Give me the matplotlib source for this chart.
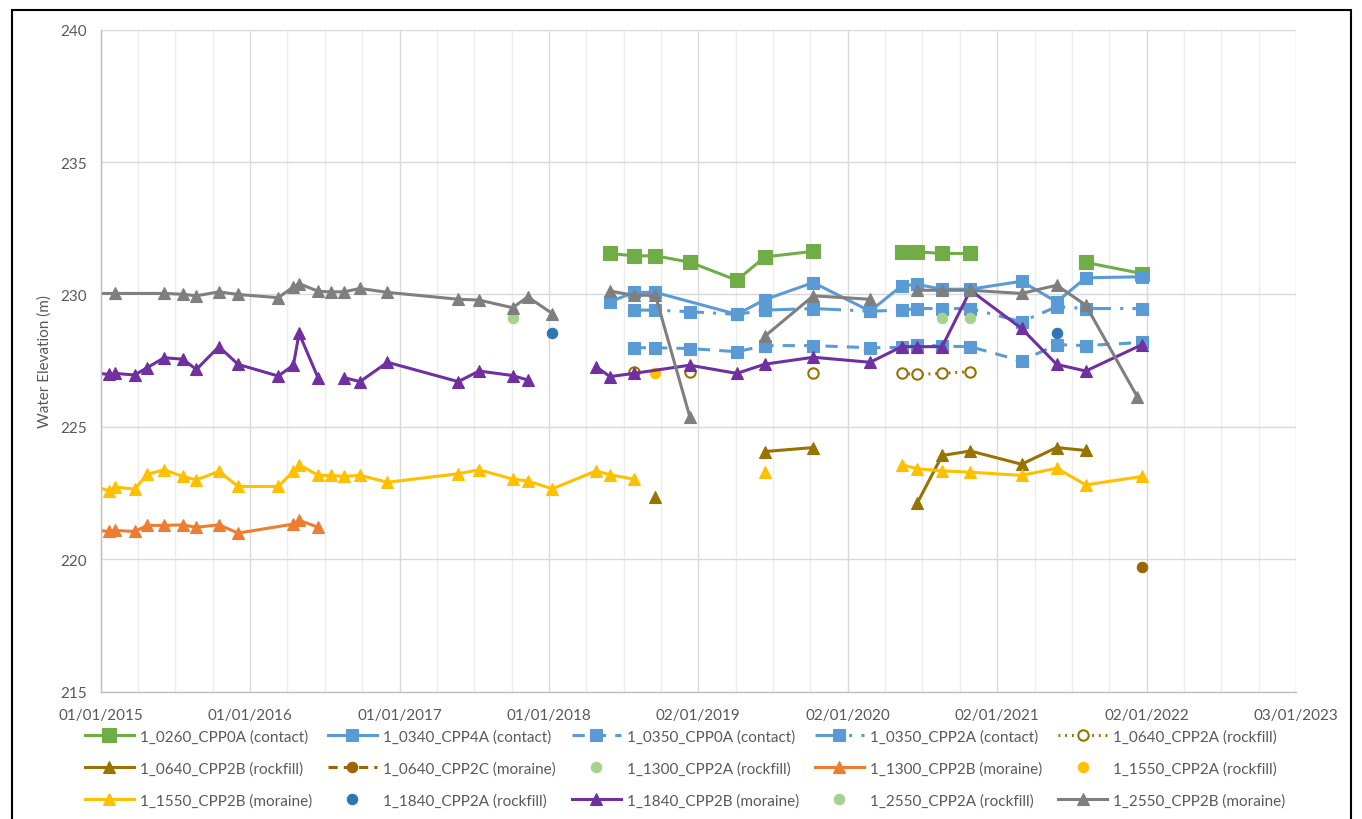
import matplotlib
matplotlib.use("Agg")
import matplotlib.pyplot as plt
import matplotlib.dates as mdates
from matplotlib.lines import Line2D
from matplotlib.patches import Rectangle
import numpy as np

# ---- monitoring data (None = no reading, breaks the line) ----
p0260_cpp0a_dates = ["2018-05-30", "2018-07-27", "2018-09-18", "2018-12-11", "2019-04-05",
                     "2019-06-13", "2019-10-09", "2020-02-25", "2020-05-12", "2020-06-19",
                     "2020-08-19", "2020-10-27", "2021-03-01", "2021-08-05", "2021-12-21"]
p0260_cpp0a_vals = [231.55, 231.46, 231.46, 231.22, 230.54, 231.42, 231.63, None, 231.61, 231.61,
                    231.55, 231.55, None, 231.21, 230.79]

p0340_cpp4a_dates = ["2018-05-30", "2018-07-27", "2018-09-18", "2019-04-05", "2019-06-13",
                     "2019-10-09", "2020-02-25", "2020-05-12", "2020-06-19", "2020-08-19",
                     "2020-10-27", "2021-03-01", "2021-05-26", "2021-08-05", "2021-12-21"]
p0340_cpp4a_vals = [229.72, 230.08, 230.08, 229.25, 229.81, 230.45, 229.37, 230.33, 230.38, 230.20,
                    230.20, 230.50, 229.72, 230.63, 230.67]

p0350_dates = ["2018-07-27", "2018-09-18", "2018-12-11", "2019-04-05", "2019-06-13",
               "2019-10-09", "2020-02-25", "2020-05-12", "2020-06-19", "2020-08-19",
               "2020-10-27", "2021-03-01", "2021-05-26", "2021-08-05", "2021-12-21"]
p0350_cpp0a_vals = [227.99, 227.99, 227.96, 227.84, 228.07, 228.07, 227.99, 228.00, 228.10, 228.05,
                    228.03, 227.49, 228.11, 228.07, 228.19]
p0350_cpp2a_vals = [229.41, 229.41, 229.35, 229.25, 229.41, 229.47, 229.37, 229.41, 229.47, 229.47,
                    229.47, 228.97, 229.54, 229.47, 229.47]

p0640_cpp2a_dates = ["2018-07-27", "2018-09-18", "2018-12-11", "2019-04-05", "2019-10-09",
                     "2020-02-25", "2020-05-12", "2020-06-19", "2020-08-19", "2020-10-27"]
p0640_cpp2a_vals = [227.09, None, 227.06, None, 227.02, None, 227.02, 226.98, 227.02, 227.09]

p0640_cpp2b_dates = ["2018-09-18", "2019-04-05", "2019-06-13", "2019-10-09", "2020-02-25",
                     "2020-06-19", "2020-08-19", "2020-10-27", "2021-03-01", "2021-05-26",
                     "2021-08-05"]
p0640_cpp2b_vals = [222.35, None, 224.07, 224.22, None, 222.12, 223.92, 224.09, 223.59, 224.22,
                    224.11]

p0640_cpp2c_dates = ["2021-12-21"]
p0640_cpp2c_vals = [219.71]

p1300_cpp2a_dates = ["2020-08-19", "2020-10-27"]
p1300_cpp2a_vals = [229.10, 229.10]

p1300_cpp2b_dates = ["2014-12-10", "2015-01-22", "2015-02-06", "2015-03-25", "2015-04-25",
                     "2015-06-05", "2015-07-20", "2015-08-23", "2015-10-17", "2015-12-03",
                     "2016-04-16", "2016-04-30", "2016-06-16"]
p1300_cpp2b_vals = [221.12, 221.05, 221.09, 221.05, 221.28, 221.28, 221.30, 221.21, 221.30, 220.99,
                    221.33, 221.47, 221.21]

p1550_cpp2a_dates = ["2018-09-18"]
p1550_cpp2a_vals = [227.02]

p1550_cpp2b_dates = ["2014-12-10", "2015-01-22", "2015-02-06", "2015-03-25", "2015-04-25",
                     "2015-06-05", "2015-07-20", "2015-08-23", "2015-10-17", "2015-12-03",
                     "2016-03-10", "2016-04-16", "2016-04-30", "2016-06-16", "2016-07-16",
                     "2016-08-18", "2016-09-26", "2016-12-02", "2017-05-24", "2017-07-14",
                     "2017-10-04", "2017-11-10", "2018-01-09", "2018-04-26", "2018-05-30",
                     "2018-07-27", "2018-09-18", "2019-06-13", "2019-10-09", "2020-05-12",
                     "2020-06-19", "2020-08-19", "2020-10-27", "2021-03-01", "2021-05-26",
                     "2021-08-05", "2021-12-21"]
p1550_cpp2b_vals = [222.78, 222.59, 222.73, 222.65, 223.21, 223.38, 223.13, 223.00, 223.32, 222.75,
                    222.75, 223.32, 223.57, 223.17, 223.17, 223.13, 223.17, 222.91, 223.23, 223.38,
                    223.03, 222.96, 222.66, 223.34, 223.19, 223.03, None, 223.29, None, 223.57,
                    223.42, 223.34, 223.29, 223.17, 223.44, 222.81, 223.13]

p1840_cpp2a_dates = ["2018-01-09", "2021-05-26"]
p1840_cpp2a_vals = [228.56, 228.56]

p1840_cpp2b_dates = ["2014-12-10", "2015-01-22", "2015-02-06", "2015-03-25", "2015-04-25",
                     "2015-06-05", "2015-07-20", "2015-08-23", "2015-10-17", "2015-12-03",
                     "2016-03-10", "2016-04-16", "2016-04-30", "2016-06-16", "2016-07-16",
                     "2016-08-18", "2016-09-26", "2016-12-02", "2017-05-24", "2017-07-14",
                     "2017-10-04", "2017-11-10", "2018-01-09", "2018-04-26", "2018-05-30",
                     "2018-07-27", "2018-12-11", "2019-04-05", "2019-06-13", "2019-10-09",
                     "2020-02-25", "2020-05-12", "2020-06-19", "2020-08-19", "2020-10-27",
                     "2021-03-01", "2021-05-26", "2021-08-05", "2021-12-21"]
p1840_cpp2b_vals = [227.05, 226.98, 227.02, 226.96, 227.24, 227.61, 227.56, 227.17, 228.03, 227.36,
                    226.92, 227.33, 228.53, 226.83, None, 226.86, 226.71, 227.44, 226.71, 227.11,
                    226.94, 226.77, None, 227.27, 226.90, 227.02, 227.33, 227.02, 227.37, 227.63,
                    227.44, 228.03, 228.03, 228.03, 230.16, 228.72, 227.36, 227.11, 228.11]

p2550_cpp2a_dates = ["2017-10-04"]
p2550_cpp2a_vals = [229.10]

p2550_cpp2b_dates = ["2014-12-10", "2015-02-06", "2015-06-05", "2015-07-20", "2015-08-23",
                     "2015-10-17", "2015-12-03", "2016-03-10", "2016-04-16", "2016-04-30",
                     "2016-06-16", "2016-07-16", "2016-08-18", "2016-09-26", "2016-12-02",
                     "2017-05-24", "2017-07-14", "2017-10-04", "2017-11-10", "2018-01-09",
                     "2018-04-26", "2018-05-30", "2018-07-27", "2018-09-18", "2018-12-11",
                     "2019-04-05", "2019-06-13", "2019-10-09", "2020-02-25", "2020-05-12",
                     "2020-06-19", "2020-08-19", "2020-10-27", "2021-03-01", "2021-05-26",
                     "2021-08-05", "2021-12-09"]
p2550_cpp2b_vals = [230.04, 230.04, 230.04, 230.01, 229.95, 230.10, 230.00, 229.88, 230.29, 230.41,
                    230.12, 230.10, 230.10, 230.23, 230.08, 229.82, 229.79, 229.50, 229.91, 229.28,
                    None, 230.13, 229.97, 229.97, 225.39, None, 228.43, 229.95, 229.82, None,
                    230.16, 230.16, 230.16, 230.04, 230.35, 229.60, 226.14]

tick_labels = ["01/01/2015", "01/01/2016", "01/01/2017", "01/01/2018", "02/01/2019",
               "02/01/2020", "02/01/2021", "02/01/2022", "03/01/2023"]

GREEN = "#70AD47"
BLUE = "#5B9BD5"
GOLD = "#997300"
BROWN = "#9C6500"
LGREEN = "#A9D18E"
ORANGE = "#ED7D31"
YELLOW = "#FFC000"
DBLUE = "#2E75B6"
PURPLE = "#7030A0"
GREY = "#7F7F7F"
TXT = "#595959"

plt.rcParams["font.family"] = ["Lato", "DejaVu Sans"]

# label, dates, values, colour, marker, marker size, line style, open marker
series = [
    ("1_0260_CPP0A (contact)", p0260_cpp0a_dates, p0260_cpp0a_vals, GREEN, "s", 9.5, "-", False),
    ("1_0340_CPP4A (contact)", p0340_cpp4a_dates, p0340_cpp4a_vals, BLUE, "s", 9.0, "-", False),
    ("1_0350_CPP0A (contact)", p0350_dates, p0350_cpp0a_vals, BLUE, "s", 9.0, (0, (4, 3)), False),
    ("1_0350_CPP2A (contact)", p0350_dates, p0350_cpp2a_vals, BLUE, "s", 9.0, (0, (8, 3, 1, 3)), False),
    ("1_0640_CPP2A (rockfill)", p0640_cpp2a_dates, p0640_cpp2a_vals, GOLD, "o", 7.5, (0, (0.6, 1.6)), True),
    ("1_0640_CPP2B (rockfill)", p0640_cpp2b_dates, p0640_cpp2b_vals, GOLD, "^", 9.0, "-", False),
    ("1_0640_CPP2C (moraine)", p0640_cpp2c_dates, p0640_cpp2c_vals, BROWN, "o", 7.5, (0, (3, 2)), False),
    ("1_1300_CPP2A (rockfill)", p1300_cpp2a_dates, p1300_cpp2a_vals, LGREEN, "o", 7.5, "none", False),
    ("1_1300_CPP2B (moraine)", p1300_cpp2b_dates, p1300_cpp2b_vals, ORANGE, "^", 9.0, "-", False),
    ("1_1550_CPP2A (rockfill)", p1550_cpp2a_dates, p1550_cpp2a_vals, YELLOW, "o", 7.5, "none", False),
    ("1_1550_CPP2B (moraine)", p1550_cpp2b_dates, p1550_cpp2b_vals, YELLOW, "^", 9.0, "-", False),
    ("1_1840_CPP2A (rockfill)", p1840_cpp2a_dates, p1840_cpp2a_vals, DBLUE, "o", 7.5, "none", False),
    ("1_1840_CPP2B (moraine)", p1840_cpp2b_dates, p1840_cpp2b_vals, PURPLE, "^", 9.0, "-", False),
    ("1_2550_CPP2A (rockfill)", p2550_cpp2a_dates, p2550_cpp2a_vals, LGREEN, "o", 7.5, "none", False),
    ("1_2550_CPP2B (moraine)", p2550_cpp2b_dates, p2550_cpp2b_vals, GREY, "^", 9.0, "-", False),
]

W, H = 1362, 820
fig = plt.figure(figsize=(W / 100, H / 100), dpi=100)
x0, x1, y0, y1 = 100.7, 1296, 30.7, 692.7
ax = fig.add_axes([x0 / W, 1 - y1 / H, (x1 - x0) / W, (y1 - y0) / H])

handles = []
labels = []
for lab, d, v, col, mk, ms, ls, hollow in series:
    x = mdates.datestr2num(d)
    y = np.array([np.nan if a is None else a for a in v], dtype=float)
    kw = dict(color=col, marker=mk, markersize=ms, linewidth=2.2, linestyle=ls,
              markeredgecolor=col, markerfacecolor="white" if hollow else col,
              markeredgewidth=1.5 if hollow else 0.8)
    ax.plot(x, y, **kw)
    handles.append(Line2D([], [], **kw))
    labels.append(lab)

start = mdates.datestr2num("2015-01-01")
major = start + np.arange(9) * 365.25
minor = start + np.arange(33) * 365.25 / 4
ax.set_xlim(major[0], major[-1])
ax.set_ylim(215, 240)
ax.set_xticks(major)
ax.set_xticklabels(tick_labels)
ax.set_xticks(minor, minor=True)
ax.set_yticks(np.arange(215, 241, 5))

ax.grid(True, which="major", color="#D9D9D9", linewidth=1.0)
ax.grid(True, which="minor", axis="x", color="#EDEDED", linewidth=1.0)
ax.set_axisbelow(True)
for s in ["top", "right"]:
    ax.spines[s].set_visible(False)
for s in ["left", "bottom"]:
    ax.spines[s].set_color("#BFBFBF")
    ax.spines[s].set_linewidth(1.0)

ax.tick_params(which="both", length=0, colors=TXT, labelsize=11)
ax.tick_params(axis="x", pad=12)
ax.tick_params(axis="y", pad=10)
ax.set_ylabel("Water Elevation (m)", color=TXT, fontsize=11, labelpad=6)

# legend is laid out row by row, matplotlib fills columns first
nrow, ncol = 3, 5
order = [r * ncol + c for c in range(ncol) for r in range(nrow)]
fig.legend([handles[i] for i in order], [labels[i] for i in order],
           loc="center", bbox_to_anchor=(0.503, 0.062), ncol=ncol, frameon=False,
           fontsize=11, labelcolor=TXT, handlelength=3.2, handletextpad=0.4,
           columnspacing=1.05, labelspacing=1.15)

fig.patches.append(Rectangle((12 / W, -0.05), (1351 - 12) / W, 1.05 - 11 / H,
                             transform=fig.transFigure, fill=False,
                             edgecolor="black", linewidth=1.5))

fig.savefig("out.png", dpi=100)
